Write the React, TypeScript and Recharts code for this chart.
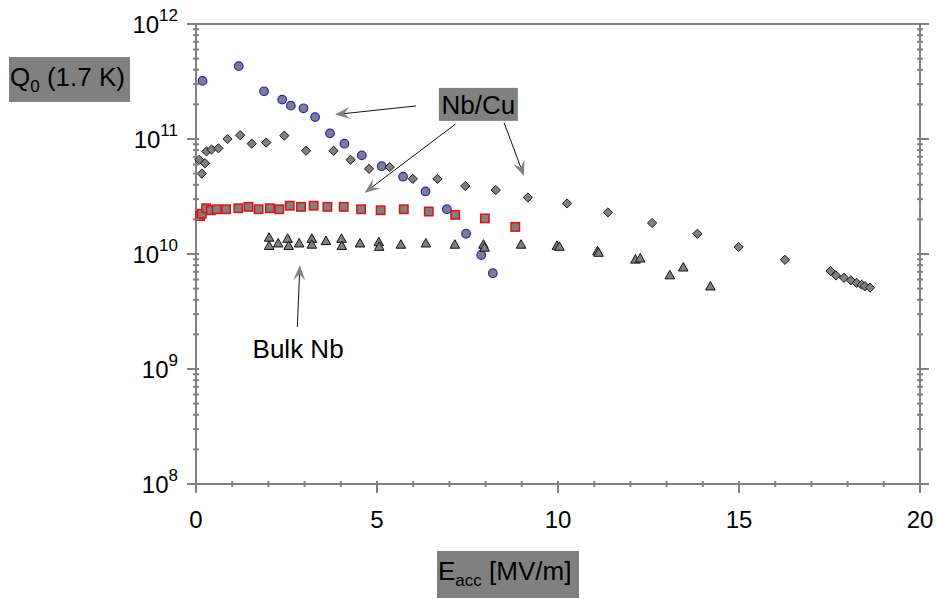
import React from 'react'
import { ScatterChart, Scatter, XAxis, YAxis, ReferenceLine, ReferenceDot } from 'recharts'

// Nb/Cu cavity, circles
const circleE = [0.18, 1.18, 1.88, 2.38, 2.62, 2.97, 3.29, 3.7, 4.1, 4.58, 5.13, 5.72, 6.34, 6.93, 7.46, 7.88, 8.2]
const circleQ = [3.2e11, 4.3e11, 2.6e11, 2.2e11, 1.95e11, 1.85e11, 1.55e11, 1.12e11, 9.1e10, 7.2e10, 5.8e10, 4.7e10, 3.5e10, 2.45e10, 1.5e10, 9.8e9, 6.8e9]

// Nb/Cu cavity, diamonds
const diamondE = [0.09, 0.25, 0.16, 0.29, 0.43, 0.62, 0.87, 1.22, 1.54, 1.94, 2.44, 3.04, 3.8, 4.27, 4.78, 5.35, 5.99, 6.67, 7.44, 8.28, 9.17, 10.25, 11.38, 12.6, 13.85, 14.99, 16.27, 17.53, 17.68, 17.9, 18.09, 18.25, 18.39, 18.48, 18.62]
const diamondQ = [6.6e10, 6.15e10, 5.0e10, 7.8e10, 8.1e10, 8.3e10, 1.0e11, 1.08e11, 9.1e10, 9.3e10, 1.07e11, 7.9e10, 7.9e10, 6.6e10, 5.5e10, 5.7e10, 4.5e10, 4.5e10, 3.9e10, 3.6e10, 3.1e10, 2.75e10, 2.3e10, 1.86e10, 1.5e10, 1.15e10, 8.9e9, 7.1e9, 6.5e9, 6.2e9, 5.9e9, 5.6e9, 5.4e9, 5.25e9, 5.1e9]

// Nb/Cu cavity, squares
const squareE = [0.11, 0.16, 0.28, 0.41, 0.57, 0.83, 1.17, 1.45, 1.73, 2.04, 2.3, 2.59, 2.9, 3.25, 3.63, 4.08, 4.56, 5.1, 5.74, 6.43, 7.16, 7.98, 8.82]
const squareQ = [2.14e10, 2.24e10, 2.5e10, 2.4e10, 2.45e10, 2.45e10, 2.5e10, 2.57e10, 2.45e10, 2.5e10, 2.45e10, 2.63e10, 2.57e10, 2.63e10, 2.57e10, 2.57e10, 2.45e10, 2.4e10, 2.45e10, 2.34e10, 2.19e10, 2.04e10, 1.72e10]

// bulk Nb, triangles
const triangleE = [2.02, 2.02, 2.27, 2.53, 2.56, 2.85, 3.2, 3.2, 3.59, 4.02, 4.03, 4.53, 5.05, 5.06, 5.66, 6.35, 7.15, 7.94, 7.97, 8.98, 9.97, 10.04, 11.09, 11.12, 12.14, 12.27, 13.09, 13.46, 14.21]
const triangleQ = [1.38e10, 1.17e10, 1.23e10, 1.35e10, 1.17e10, 1.23e10, 1.35e10, 1.2e10, 1.29e10, 1.35e10, 1.17e10, 1.23e10, 1.26e10, 1.15e10, 1.2e10, 1.23e10, 1.2e10, 1.2e10, 1.13e10, 1.2e10, 1.17e10, 1.15e10, 1.05e10, 1.02e10, 8.9e9, 9.1e9, 6.5e9, 7.6e9, 5.2e9]

const xTicks = [0, 1, 2, 3, 4, 5, 6, 7, 8, 9, 10, 11, 12, 13, 14, 15, 16, 17, 18, 19, 20]
const xLabelled = [0, 5, 10, 15, 20]
const yDecades = [1e8, 1e9, 1e10, 1e11, 1e12]
const yMinorSteps = [2, 3, 4, 5, 6, 7, 8, 9]

const yTicks = [...yDecades]
yDecades.slice(0, -1).forEach((d) => yMinorSteps.forEach((m) => yTicks.push(d * m)))

const toPoints = (xs: number[], ys: number[]) => xs.map((x, i) => ({ x, y: ys[i] }))

const GRAY = '#808080'
const FONT = '"Liberation Sans", Arial, sans-serif'

const isDecade = (v: number) => yDecades.some((d) => Math.abs(v / d - 1) < 1e-6)

const AxisTick = ({ side, labels }: { side: string; labels: boolean }) => (props: any) => {
    const { x, y, payload } = props
    const v = payload.value
    const horiz = side === 'bottom' || side === 'top'
    const major = horiz ? xLabelled.includes(v) : isDecade(v)
    const out = major ? 9 : 3
    let line
    if (side === 'left') line = <line x1={x - out} x2={x + 3} y1={y} y2={y} />
    else if (side === 'right') line = <line x1={x - 3} x2={x + out} y1={y} y2={y} />
    else if (side === 'bottom') line = <line x1={x} x2={x} y1={y - 3} y2={y + out} />
    else line = <line x1={x} x2={x} y1={y - out} y2={y + 3} />
    let label = null
    if (labels && major) {
        if (side === 'bottom') {
            label = <text x={x} y={y + 44} textAnchor="middle" fontSize={24} fill="#000" fontFamily={FONT}>{v}</text>
        } else {
            const exp = Math.round(Math.log10(v))
            label = (
                <text x={x - 18} y={y + 9} textAnchor="end" fontSize={24} fill="#000" fontFamily={FONT}>
                    10<tspan dy={-12} fontSize={17}>{exp}</tspan>
                </text>
            )
        }
    }
    return (
        <g>
            <g stroke={GRAY} strokeWidth={2}>{line}</g>
            {label}
        </g>
    )
}

const circleShape = (p: any) => <circle cx={p.cx} cy={p.cy} r={4.3} fill={GRAY} stroke="#2323d8" strokeWidth={1.2} />
const squareShape = (p: any) => <rect x={p.cx - 4.2} y={p.cy - 4.2} width={8.4} height={8.4} fill={GRAY} stroke="#e01010" strokeWidth={1.5} />
const diamondShape = (p: any) => (
    <polygon points={`${p.cx},${p.cy - 4.6} ${p.cx + 4.6},${p.cy} ${p.cx},${p.cy + 4.6} ${p.cx - 4.6},${p.cy}`} fill={GRAY} stroke="#1a1a1a" strokeWidth={1} />
)
const triangleShape = (p: any) => (
    <polygon points={`${p.cx},${p.cy - 5.2} ${p.cx + 4.8},${p.cy + 3.3} ${p.cx - 4.8},${p.cy + 3.3}`} fill={GRAY} stroke="#111" strokeWidth={1} />
)

// line with a concave grey arrow head at the end point
const arrowShape = (p: any) => {
    const { x1, y1, x2, y2 } = p
    const a = Math.atan2(y2 - y1, x2 - x1)
    const L = 15, W = 6
    const bx = x2 - L * Math.cos(a), by = y2 - L * Math.sin(a)
    const nx = -Math.sin(a), ny = Math.cos(a)
    const mx = x2 - L * 0.6 * Math.cos(a), my = y2 - L * 0.6 * Math.sin(a)
    return (
        <g>
            <line x1={x1} y1={y1} x2={mx} y2={my} stroke="#111" strokeWidth={1} />
            <polygon points={`${x2},${y2} ${bx + W * nx},${by + W * ny} ${mx},${my} ${bx - W * nx},${by - W * ny}`} fill={GRAY} />
        </g>
    )
}

const arrows = [
    [{ x: 6.08, y: 1.94e11 }, { x: 3.84, y: 1.63e11 }],
    [{ x: 7.17, y: 1.35e11 }, { x: 4.66, y: 3.41e10 }],
    [{ x: 8.51, y: 1.39e11 }, { x: 9.06, y: 4.76e10 }],
    [{ x: 2.8, y: 2.33e9 }, { x: 2.87, y: 8.0e9 }],
]

const nbCuLabel = (p: any) => (
    <g>
        <rect x={p.cx - 39.5} y={p.cy - 16.5} width={79} height={33} fill={GRAY} />
        <text x={p.cx} y={p.cy + 9.5} textAnchor="middle" fontSize={26} fill="#000" fontFamily={FONT}>Nb/Cu</text>
    </g>
)
const bulkLabel = (p: any) => (
    <text x={p.cx} y={p.cy + 9.5} textAnchor="middle" fontSize={26} fill="#000" fontFamily={FONT}>Bulk Nb</text>
)

export default function App() {
    const axisProps = { stroke: GRAY, tickLine: false, interval: 0 as const, tickSize: 0, tickMargin: 0 }
    return (
        <div style={{ position: 'relative', width: 938, height: 599, background: '#fff', fontFamily: FONT }}>
            <style>{'body{margin:0}'}</style>
            <ScatterChart width={938} height={599} margin={{ top: 23, right: 17, bottom: 114, left: 195 }}>
                <XAxis xAxisId="b" orientation="bottom" type="number" dataKey="x" domain={[0, 20]} ticks={xTicks} height={1}
                    axisLine={{ stroke: GRAY, strokeWidth: 2 }} tick={AxisTick({ side: 'bottom', labels: true })} {...axisProps} />
                <XAxis xAxisId="t" orientation="top" type="number" dataKey="x" domain={[0, 20]} ticks={xTicks} height={1}
                    axisLine={{ stroke: GRAY, strokeWidth: 2 }} tick={AxisTick({ side: 'top', labels: false })} {...axisProps} />
                <YAxis yAxisId="l" orientation="left" type="number" dataKey="y" scale="log" domain={[1e8, 1e12]} ticks={yTicks} width={1}
                    allowDataOverflow axisLine={{ stroke: GRAY, strokeWidth: 2 }} tick={AxisTick({ side: 'left', labels: true })} {...axisProps} />
                <YAxis yAxisId="r" orientation="right" type="number" dataKey="y" scale="log" domain={[1e8, 1e12]} ticks={yTicks} width={1}
                    allowDataOverflow axisLine={{ stroke: GRAY, strokeWidth: 2 }} tick={AxisTick({ side: 'right', labels: false })} {...axisProps} />

                <Scatter xAxisId="b" yAxisId="l" data={toPoints(circleE, circleQ)} shape={circleShape} isAnimationActive={false} />
                <Scatter xAxisId="b" yAxisId="l" data={toPoints(diamondE, diamondQ)} shape={diamondShape} isAnimationActive={false} />
                <Scatter xAxisId="b" yAxisId="l" data={toPoints(squareE, squareQ)} shape={squareShape} isAnimationActive={false} />
                <Scatter xAxisId="b" yAxisId="l" data={toPoints(triangleE, triangleQ)} shape={triangleShape} isAnimationActive={false} />

                {arrows.map((seg, i) => (
                    <ReferenceLine key={i} xAxisId="b" yAxisId="l" segment={seg} shape={arrowShape} ifOverflow="visible" />
                ))}
                <ReferenceDot xAxisId="b" yAxisId="l" x={7.8} y={2.0e11} shape={nbCuLabel} ifOverflow="visible" />
                <ReferenceDot xAxisId="b" yAxisId="l" x={2.82} y={1.5e9} shape={bulkLabel} ifOverflow="visible" />
            </ScatterChart>

            <div style={{ position: 'absolute', left: 9, top: 57, width: 121, height: 45, background: GRAY, fontSize: 26, lineHeight: '40px', paddingLeft: 1, boxSizing: 'border-box', whiteSpace: 'nowrap', overflow: 'hidden' }}>
                Q<sub style={{ fontSize: 17 }}>0</sub> (1.7 K)
            </div>
            <div style={{ position: 'absolute', left: 437, top: 551, width: 142, height: 47, background: GRAY, fontSize: 26, lineHeight: '40px', paddingLeft: 1, boxSizing: 'border-box', whiteSpace: 'nowrap', overflow: 'hidden' }}>
                E<sub style={{ fontSize: 17 }}>acc</sub> [MV/m]
            </div>
        </div>
    )
}
